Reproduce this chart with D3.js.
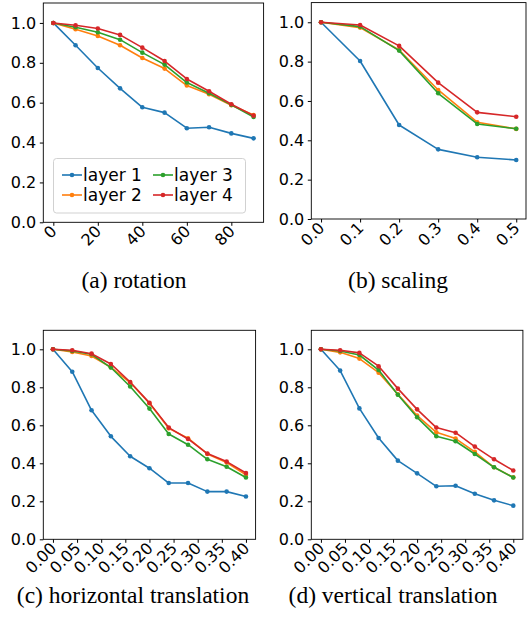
<!DOCTYPE html>
<html><head><meta charset="utf-8">
<script src="https://cdn.jsdelivr.net/npm/d3@7"></script>
<style>body{margin:0;background:#fff}svg{display:block}</style>
</head><body>
<svg id="c" width="529" height="620"></svg>
<script>
// ---- data ----
const seriesNames = ["layer 1", "layer 2", "layer 3", "layer 4"];
const colors = ["#1f77b4", "#ff7f0e", "#2ca02c", "#d62728"];

const rotationX = [0, 10, 20, 30, 40, 50, 60, 70, 80, 90];
const rotationTicks = [0, 20, 40, 60, 80];
const rotationL1 = [1.0, 0.888, 0.774, 0.672, 0.577, 0.550, 0.472, 0.477, 0.446, 0.421];
const rotationL2 = [1.0, 0.968, 0.935, 0.888, 0.824, 0.771, 0.686, 0.642, 0.587, 0.538];
const rotationL3 = [1.0, 0.978, 0.953, 0.916, 0.851, 0.791, 0.701, 0.647, 0.589, 0.528];
const rotationL4 = [1.0, 0.988, 0.972, 0.940, 0.876, 0.809, 0.719, 0.657, 0.592, 0.535];

const scalingX = [0.0, 0.1, 0.2, 0.3, 0.4, 0.5];
const scalingTicks = [0.0, 0.1, 0.2, 0.3, 0.4, 0.5];
const scalingL1 = [1.0, 0.803, 0.478, 0.354, 0.314, 0.300];
const scalingL2 = [1.0, 0.973, 0.859, 0.656, 0.492, 0.458];
const scalingL3 = [1.0, 0.978, 0.856, 0.639, 0.483, 0.459];
const scalingL4 = [1.0, 0.986, 0.880, 0.693, 0.542, 0.520];

const transX = [0.0, 0.04, 0.08, 0.12, 0.16, 0.20, 0.24, 0.28, 0.32, 0.36, 0.40];
const transTicks = [0.00, 0.05, 0.10, 0.15, 0.20, 0.25, 0.30, 0.35, 0.40];
const hTransL1 = [1.0, 0.882, 0.679, 0.542, 0.437, 0.374, 0.296, 0.296, 0.251, 0.251, 0.225];
const hTransL2 = [1.0, 0.986, 0.965, 0.905, 0.825, 0.716, 0.584, 0.532, 0.449, 0.404, 0.339];
const hTransL3 = [1.0, 0.991, 0.974, 0.904, 0.804, 0.688, 0.554, 0.498, 0.421, 0.382, 0.325];
const hTransL4 = [1.0, 0.995, 0.977, 0.923, 0.828, 0.718, 0.588, 0.528, 0.451, 0.409, 0.349];

const vTransL1 = [1.0, 0.888, 0.689, 0.533, 0.414, 0.347, 0.279, 0.282, 0.240, 0.205, 0.177];
const vTransL2 = [1.0, 0.984, 0.951, 0.877, 0.763, 0.651, 0.563, 0.530, 0.460, 0.379, 0.326];
const vTransL3 = [1.0, 0.991, 0.970, 0.891, 0.761, 0.642, 0.542, 0.516, 0.449, 0.379, 0.325];
const vTransL4 = [1.0, 0.995, 0.981, 0.911, 0.793, 0.684, 0.588, 0.561, 0.488, 0.421, 0.362];

const yTicks = [0.0, 0.2, 0.4, 0.6, 0.8, 1.0];
const captions = ["(a) rotation", "(b) scaling", "(c) horizontal translation", "(d) vertical translation"];

// ---- layout ----
const panels = [
  {x: rotationX, ys: [rotationL1, rotationL2, rotationL3, rotationL4], ticks: rotationTicks, fmt: d3.format("d"),
   dom: [-4.5, 94.5], box: {l: 43.3, r: 263.6, t: 3, b: 222.3}, cap: captions[0], capX: 134, capY: 288, legend: true},
  {x: scalingX, ys: [scalingL1, scalingL2, scalingL3, scalingL4], ticks: scalingTicks, fmt: d3.format(".1f"),
   dom: [-0.025, 0.525], box: {l: 311.3, r: 526, t: 2.6, b: 219}, cap: captions[1], capX: 398, capY: 288},
  {x: transX, ys: [hTransL1, hTransL2, hTransL3, hTransL4], ticks: transTicks, fmt: d3.format(".2f"),
   dom: [-0.02, 0.42], box: {l: 43.3, r: 255.6, t: 330.3, b: 539.3}, cap: captions[2], capX: 133, capY: 603},
  {x: transX, ys: [vTransL1, vTransL2, vTransL3, vTransL4], ticks: transTicks, fmt: d3.format(".2f"),
   dom: [-0.02, 0.42], box: {l: 311.3, r: 522.9, t: 330.3, b: 539.3}, cap: captions[3], capX: 393, capY: 603}
];

const svg = d3.select("#c");
const tickFont = "DejaVu Sans, sans-serif";

panels.forEach(p => {
  const x = d3.scaleLinear().domain(p.dom).range([p.box.l, p.box.r]);
  const y = d3.scaleLinear().domain([0, 1.1]).range([p.box.b, p.box.t]);
  const g = svg.append("g");

  // y axis
  const ya = g.append("g").attr("transform", `translate(${p.box.l},0)`)
    .call(d3.axisLeft(y).tickValues(yTicks).tickFormat(d3.format(".1f")).tickSize(3.5).tickPadding(3.5));
  ya.select(".domain").remove();
  ya.selectAll("text").attr("font-family", tickFont).attr("font-size", 16).attr("fill", "#000");
  ya.selectAll("line").attr("stroke", "#000");

  // x axis
  const xa = g.append("g").attr("transform", `translate(0,${p.box.b})`)
    .call(d3.axisBottom(x).tickValues(p.ticks).tickFormat(p.fmt).tickSize(3.5).tickPadding(3.5));
  xa.select(".domain").remove();
  xa.selectAll("line").attr("stroke", "#000");
  xa.selectAll("text").attr("font-family", tickFont).attr("font-size", 16).attr("fill", "#000")
    .attr("text-anchor", "end").attr("dy", null).attr("y", 0)
    .attr("transform", "translate(4,10) rotate(-45)");

  // frame
  g.append("rect").attr("x", p.box.l).attr("y", p.box.t)
    .attr("width", p.box.r - p.box.l).attr("height", p.box.b - p.box.t)
    .attr("fill", "none").attr("stroke", "#000").attr("stroke-width", 0.9);

  // lines
  const line = d3.line().x((d, i) => x(p.x[i])).y(d => y(d));
  p.ys.forEach((vals, si) => {
    g.append("path").datum(vals).attr("d", line).attr("fill", "none")
      .attr("stroke", colors[si]).attr("stroke-width", 1.6).attr("stroke-linejoin", "round");
    g.selectAll(null).data(vals).enter().append("circle")
      .attr("cx", (d, i) => x(p.x[i])).attr("cy", d => y(d)).attr("r", 2.3).attr("fill", colors[si]);
  });

  // legend
  if (p.legend) {
    const lg = g.append("g");
    lg.append("rect").attr("x", 53.5).attr("y", 158.5).attr("width", 192).attr("height", 54.5)
      .attr("rx", 3).attr("fill", "#fff").attr("fill-opacity", 0.8).attr("stroke", "#ccc").attr("stroke-width", 0.9);
    const pos = [[62, 175], [62, 195], [153, 175], [153, 195]];
    seriesNames.forEach((n, si) => {
      const [lx, ly] = pos[si];
      lg.append("line").attr("x1", lx).attr("x2", lx + 20).attr("y1", ly).attr("y2", ly)
        .attr("stroke", colors[si]).attr("stroke-width", 1.6);
      lg.append("circle").attr("cx", lx + 10).attr("cy", ly).attr("r", 2.3).attr("fill", colors[si]);
      lg.append("text").attr("x", lx + 21).attr("y", ly + 6).text(n)
        .attr("font-family", tickFont).attr("font-size", 17).attr("fill", "#000");
    });
  }

  // caption
  svg.append("text").attr("x", p.capX).attr("y", p.capY).attr("text-anchor", "middle")
    .attr("font-family", "Liberation Serif, Times New Roman, serif").attr("font-size", 23.5)
    .attr("fill", "#000").text(p.cap);
});
</script>
</body></html>
